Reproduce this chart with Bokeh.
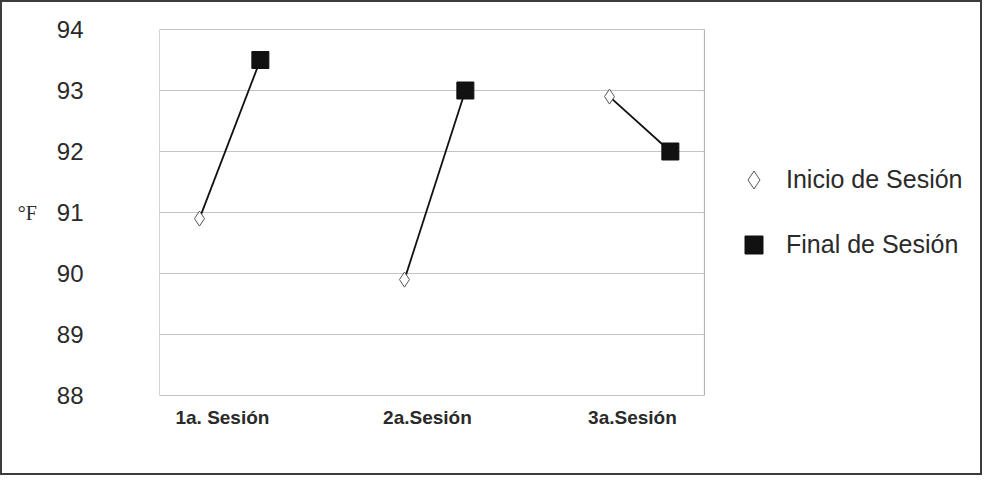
from bokeh.plotting import figure
from bokeh.models import FixedTicker, Legend, LegendItem, ColumnDataSource
from bokeh.embed import file_html
from bokeh.resources import INLINE

# ---- data ----
sessions = ["1a. Sesión", "2a.Sesión", "3a.Sesión"]
inicio = [90.9, 89.9, 92.9]
final = [93.5, 93.0, 92.0]
y_ticks = [88, 89, 90, 91, 92, 93, 94]
series_names = ["Inicio de Sesión", "Final de Sesión"]

# ---- layout constants (plot-area extent in data units) ----
X0, X1 = 0.693, 3.351          # plot-area box
XEND = X0 + 820 / 205          # extra room on the right for the legend
Y0, Y1 = y_ticks[0], y_ticks[-1]

pos = [i + 1 for i in range(len(sessions))]
off_ini = -0.112
off_fin = 0.185
x_ini = [p_ + off_ini for p_ in pos]
x_fin = [p_ + off_fin for p_ in pos]

src = ColumnDataSource(dict(x_ini=x_ini, x_fin=x_fin, ini=inicio, fin=final))
grid_src = ColumnDataSource(dict(x0=[X0] * len(y_ticks), x1=[X1] * len(y_ticks), y=y_ticks))

p = figure(width=982, height=475, output_backend="svg", toolbar_location=None,
           x_range=(X0, XEND), y_range=(Y0, Y1),
           min_border_left=157, min_border_right=5,
           min_border_top=27, min_border_bottom=82)
p.styles = {"border": "2px solid #3c3c3c"}

p.background_fill_color = "white"
p.border_fill_color = "white"
p.outline_line_color = None
p.xgrid.grid_line_color = None
p.ygrid.grid_line_color = None

# plot-area gridlines and box
p.segment(x0="x0", y0="y", x1="x1", y1="y", source=grid_src,
          line_color="#c4c4c4", line_width=1)
p.quad(left=[X0], right=[X1], bottom=[Y0], top=[Y1],
       fill_color=None, line_color="#a8a8a8", line_width=1)

# axes
xa = p.xaxis[0]
xa.ticker = FixedTicker(ticks=pos)
xa.major_label_overrides = {pp: s for pp, s in zip(pos, sessions)}
xa.axis_line_color = None
xa.major_tick_line_color = None
xa.minor_tick_line_color = None
xa.major_label_standoff = 5
xa.major_label_text_font = "Liberation Sans"
xa.major_label_text_font_size = "19px"
xa.major_label_text_font_style = "bold"
xa.major_label_text_color = "#2a2a2a"

ya = p.yaxis[0]
ya.ticker = FixedTicker(ticks=y_ticks)
ya.axis_line_color = None
ya.major_tick_line_color = None
ya.minor_tick_line_color = None
ya.major_label_standoff = 70
ya.major_label_text_font = "Liberation Sans"
ya.major_label_text_font_size = "24px"
ya.major_label_text_color = "#2a2a2a"
ya.axis_label = "°F"
ya.axis_label_standoff = 17
ya.axis_label_text_font = "Liberation Serif"
ya.axis_label_text_font_size = "20px"
ya.axis_label_text_font_style = "normal"
ya.axis_label_text_color = "#2a2a2a"
try:
    ya.axis_label_orientation = "horizontal"
except Exception:
    pass

# connecting lines
p.segment(x0="x_ini", y0="ini", x1="x_fin", y1="fin", source=src,
          line_color="#111111", line_width=1.8)

r_ini = p.scatter(x="x_ini", y="ini", source=src, marker="diamond", size=15,
                  fill_color="white", line_color="#555555", line_width=1)
r_fin = p.scatter(x="x_fin", y="fin", source=src, marker="square", size=17,
                  fill_color="#111111", line_color="#111111")

legend = Legend(items=[LegendItem(label=series_names[0], renderers=[r_ini]),
                       LegendItem(label=series_names[1], renderers=[r_fin])],
                location=(572, 128), orientation="vertical")
legend.glyph_width = 45
legend.glyph_height = 45
legend.label_height = 45
legend.spacing = 20
legend.padding = 0
legend.margin = 0
legend.label_standoff = 10
legend.label_text_font = "Liberation Sans"
legend.label_text_font_size = "25px"
legend.label_text_color = "#2a2a2a"
legend.border_line_color = None
legend.background_fill_color = None
legend.background_fill_alpha = 0
p.add_layout(legend)

open("out.html", "w").write(file_html(p, INLINE))
